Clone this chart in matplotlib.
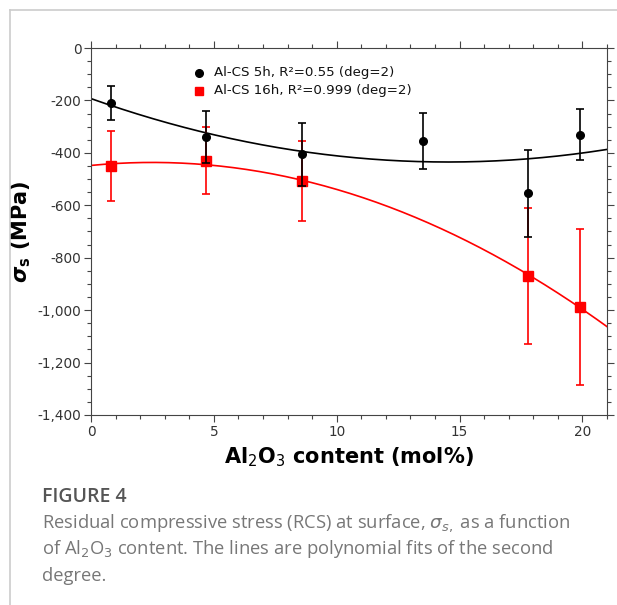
import numpy as np
import matplotlib
matplotlib.use("Agg")
import matplotlib.pyplot as plt
from matplotlib.ticker import MultipleLocator, FuncFormatter
from matplotlib.lines import Line2D

# Data
x_5h = [0.8, 4.7, 8.6, 13.5, 17.8, 19.9]
y_5h = [-210, -340, -405, -355, -555, -330]
e_5h = [65, 100, 120, 106, 166, 99]

x_16h = [0.8, 4.7, 8.6, 17.8, 19.9]
y_16h = [-450, -430, -508, -870, -987]
e_16h = [134, 128, 153, 260, 297]

# Second-degree fit coefficients (a, b, c)
fit_5h = [1.146, -33.3, -193.0]
fit_16h = [-1.83, 9.15, -448.0]

label_5h = "Al-CS 5h, R²=0.55 (deg=2)"
label_16h = "Al-CS 16h, R²=0.999 (deg=2)"

W, H = 617, 605
fig = plt.figure(figsize=(W / 100, H / 100), dpi=100)

# panel border lines
fig.add_artist(Line2D([10 / W, 1], [1 - 10 / H, 1 - 10 / H], color="#cccccc", lw=1.2))
fig.add_artist(Line2D([10 / W, 10 / W], [0, 1 - 10 / H], color="#cccccc", lw=1.2))

ax = fig.add_axes([91 / W, 1 - 415 / H, (607 - 91) / W, (415 - 48) / H])

xs = np.linspace(0, 21, 200)
ax.plot(xs, np.polyval(fit_5h, xs), color="black", lw=1.2, zorder=2)
ax.plot(xs, np.polyval(fit_16h, xs), color="#ff0000", lw=1.2, zorder=2)

ax.errorbar(x_5h, y_5h, yerr=e_5h, fmt="o", color="black", ms=5.5,
            elinewidth=1.2, capsize=3, capthick=1.2, zorder=4)
ax.errorbar(x_16h, y_16h, yerr=e_16h, fmt="s", color="#ff0000", ms=6.5,
            elinewidth=1.2, capsize=3, capthick=1.2, zorder=3)

ax.set_xlim(0, 21)
ax.set_ylim(-1400, 0)
ax.xaxis.set_major_locator(MultipleLocator(5))
ax.xaxis.set_minor_locator(MultipleLocator(1))
ax.yaxis.set_major_locator(MultipleLocator(200))
ax.yaxis.set_minor_locator(MultipleLocator(50))
ax.yaxis.set_major_formatter(FuncFormatter(lambda v, p: f"{int(v):,}"))

ax.tick_params(axis="both", which="both", direction="out", top=True, right=True,
               labeltop=False, labelright=False, color="#444444", width=0.8)
ax.tick_params(which="major", length=5, labelsize=9.8, labelcolor="#333333", pad=2)
ax.tick_params(which="minor", length=3)
for s in ax.spines.values():
    s.set_color("#444444")
    s.set_linewidth(0.8)

ax.set_xlabel("Al$_2$O$_3$ content (mol%)", fontsize=15, fontweight="bold", labelpad=5)
ax.set_ylabel(r"$\boldsymbol{\sigma}_{\mathbf{s}}$ (MPa)", fontsize=15, fontweight="bold")
ax.yaxis.set_label_coords(-0.112, 0.5)

# legend
ax.plot([4.4], [-95], "o", color="black", ms=5.5)
ax.plot([4.4], [-163], "s", color="#ff0000", ms=6)
ax.text(5.0, -95, label_5h, fontsize=9.6, va="center", ha="left", color="#111111")
ax.text(5.0, -163, label_16h, fontsize=9.6, va="center", ha="left", color="#111111")

# caption
fig.text(42 / W, 1 - 497 / H, "FIGURE 4", fontsize=14, color="#555555",
         family="Open Sans", fontweight="semibold", va="center", ha="left")
cap = ["Residual compressive stress (RCS) at surface, $\\sigma_{s,}$ as a function",
       "of Al$_2$O$_3$ content. The lines are polynomial fits of the second",
       "degree."]
for i, line in enumerate(cap):
    fig.text(42 / W, 1 - (523 + 26.5 * i) / H, line, fontsize=13.2, color="#777777",
             family="Open Sans", va="center", ha="left")

fig.savefig("out.png", dpi=100)
